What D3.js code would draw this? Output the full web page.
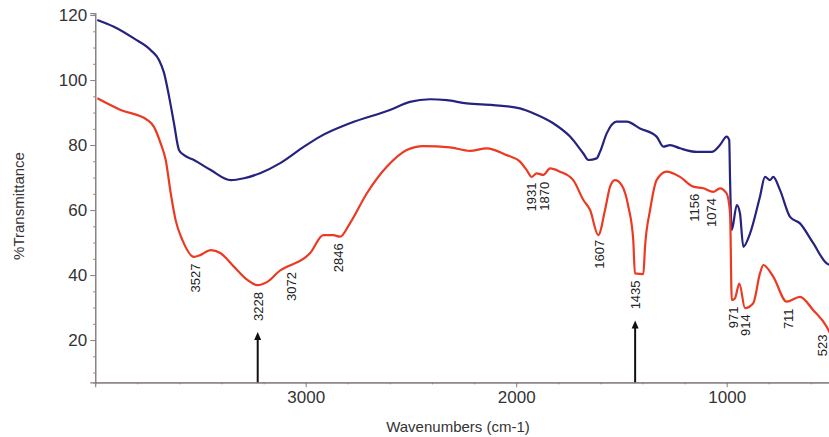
<!DOCTYPE html>
<html>
<head>
<meta charset="utf-8">
<script src="https://cdn.jsdelivr.net/npm/d3@7"></script>
<style>
  body { margin: 0; background: #fff; }
  text { font-family: "Liberation Sans", Arial, sans-serif; }
</style>
</head>
<body>
<div id="app"></div>
<script>
// IR spectra: [wavenumber cm-1, %T]
const blueSpectrum = [
  [3990, 118.5], [3911, 116.4], [3816, 112.8], [3736, 109.2], [3697, 106.2],
  [3673, 102.2], [3649, 94.9], [3626, 86.8], [3602, 78.5], [3578, 76.9],
  [3531, 75.4], [3451, 72.3], [3356, 69.2], [3293, 69.8], [3214, 71.4],
  [3119, 74.5], [3008, 79.5], [2932, 82.6], [2790, 86.7], [2600, 90.8],
  [2505, 93.3], [2410, 94.1], [2330, 93.8], [2235, 92.8], [2109, 92.3],
  [1982, 91.3], [1919, 89.8], [1824, 86.7], [1744, 82.6], [1681, 77.4],
  [1657, 75.4], [1618, 75.9], [1602, 77.9], [1570, 83.6], [1523, 87.2],
  [1475, 87.2], [1412, 85.1], [1333, 82.6], [1301, 79.5], [1269, 80.0],
  [1222, 79.0], [1142, 77.9], [1071, 77.9], [1032, 80.0], [1000, 82.6],
  [988, 81.5], [984, 69.2], [976, 53.8], [952, 61.5], [937, 59.0],
  [921, 48.7], [889, 52.8], [842, 64.1], [818, 70.2], [794, 69.2],
  [779, 70.2], [747, 66.2], [699, 57.9], [652, 55.9], [589, 49.8],
  [525, 43.6], [505, 43.0]
];

const redSpectrum = [
  [3990, 94.4], [3879, 90.8], [3752, 87.7], [3721, 85.6], [3689, 80.5],
  [3665, 75.4], [3641, 65.1], [3618, 56.9], [3586, 50.8], [3531, 45.6],
  [3499, 46.2], [3451, 47.7], [3404, 46.7], [3341, 42.6], [3277, 38.5],
  [3230, 36.9], [3182, 37.9], [3119, 41.5], [3087, 42.6], [3008, 45.1],
  [2980, 46.7], [2916, 52.3], [2869, 52.3], [2837, 51.8], [2790, 55.9],
  [2710, 65.1], [2615, 73.3], [2520, 78.5], [2441, 79.7], [2315, 79.3],
  [2220, 78.2], [2140, 79.0], [2045, 76.9], [1982, 74.9], [1950, 72.3],
  [1926, 70.2], [1903, 71.3], [1871, 70.8], [1839, 72.8], [1792, 71.8],
  [1729, 69.2], [1681, 63.1], [1649, 60.0], [1610, 52.3], [1578, 60.0],
  [1554, 67.2], [1531, 69.2], [1499, 67.7], [1467, 61.0], [1444, 50.8],
  [1436, 40.5], [1396, 40.3], [1388, 48.7], [1364, 60.0], [1333, 69.2],
  [1285, 71.8], [1222, 70.2], [1159, 67.2], [1111, 66.7], [1064, 65.6],
  [1032, 66.7], [1000, 65.1], [984, 59.0], [976, 32.3], [961, 32.8],
  [940, 37.4], [913, 29.8], [874, 31.3], [842, 40.5], [826, 43.1],
  [779, 39.5], [715, 31.8], [652, 33.3], [589, 29.2], [525, 24.1],
  [505, 21.5]
];

const peakLabels = [3527, 3228, 3072, 2846, 1931, 1870, 1607, 1435, 1156, 1074, 971, 914, 711, 523];
const arrowPeaks = [3228, 1435];

const yMajorTicks = [20, 40, 60, 80, 100, 120];
const yMinorTicks = d3.range(10, 121, 5);
const xMajorTicks = [3000, 2000, 1000];
const xMinorTicks = d3.range(3800, 599, -200);

const width = 829;
const height = 437;

const svg = d3.select('#app').append('svg')
    .attr('width', width)
    .attr('height', height)
    .style('background', '#fff');

const xScale = d3.scaleLinear().domain([4000, 400]).range([95.2, 853]);
const yScale = d3.scaleLinear().domain([7, 120.6]).range([382.3, 13.1]);

const axisColor = '#8c8282';

// Y axis
const yAxisG = svg.append('g').attr('transform', `translate(${xScale(4000)},0)`);
yAxisG.call(d3.axisLeft(yScale).tickValues(yMinorTicks).tickSize(2).tickFormat(''));
yAxisG.append('g').call(d3.axisLeft(yScale).tickValues(yMajorTicks).tickSize(5).tickPadding(3).tickFormat(d3.format('d')));
yAxisG.selectAll('.domain').attr('stroke', axisColor).attr('stroke-width', 1.2);
yAxisG.selectAll('.tick line').attr('stroke', axisColor);
yAxisG.selectAll('text')
    .attr('font-size', 17)
    .attr('fill', '#333')
    .style('font-family', '"Liberation Sans", Arial, sans-serif');

// X axis
const xAxisG = svg.append('g').attr('transform', `translate(0,${yScale(7)})`);
xAxisG.call(d3.axisBottom(xScale).tickValues(xMinorTicks).tickSize(2).tickFormat(''));
xAxisG.append('g').call(d3.axisBottom(xScale).tickValues(xMajorTicks).tickSize(5).tickPadding(4).tickFormat(d3.format('d')));
xAxisG.selectAll('.domain').attr('stroke', axisColor).attr('stroke-width', 1.2);
xAxisG.selectAll('.tick line').attr('stroke', axisColor);
xAxisG.selectAll('text')
    .attr('font-size', 17)
    .attr('fill', '#333')
    .style('font-family', '"Liberation Sans", Arial, sans-serif');

// Axis titles
svg.append('text')
    .attr('x', 458)
    .attr('y', 432)
    .attr('text-anchor', 'middle')
    .attr('font-size', 15)
    .attr('fill', '#333')
    .text('Wavenumbers (cm-1)');

svg.append('text')
    .attr('transform', 'translate(24,206) rotate(-90)')
    .attr('text-anchor', 'middle')
    .attr('font-size', 15)
    .attr('fill', '#333')
    .text('%Transmittance');

// Spectra
const line = d3.line()
    .x(d => xScale(d[0]))
    .y(d => yScale(d[1]))
    .curve(d3.curveMonotoneX);

svg.append('path')
    .datum(blueSpectrum)
    .attr('d', line)
    .attr('fill', 'none')
    .attr('stroke', '#25237f')
    .attr('stroke-width', 2.2)
    .attr('stroke-linejoin', 'round');

svg.append('path')
    .datum(redSpectrum)
    .attr('d', line)
    .attr('fill', 'none')
    .attr('stroke', '#ec3a22')
    .attr('stroke-width', 2.2)
    .attr('stroke-linejoin', 'round');

// Interpolate red %T at a wavenumber (data is sorted descending)
const redAt = wn => {
    const sorted = redSpectrum.slice().reverse();
    const i = d3.bisector(d => d[0]).left(sorted, wn);
    if (i <= 0) return sorted[0][1];
    if (i >= sorted.length) return sorted[sorted.length - 1][1];
    const a = sorted[i - 1], b = sorted[i];
    const t = (wn - a[0]) / (b[0] - a[0]);
    return a[1] + t * (b[1] - a[1]);
};

const labelTop = wn => yScale(redAt(wn)) + 7;

// Peak labels (rotated, reading bottom to top); keep the last one inside the edge
svg.append('g')
    .selectAll('text')
    .data(peakLabels)
    .join('text')
    .attr('transform', d => `translate(${Math.min(xScale(d) + 5, width - 2)},${labelTop(d)}) rotate(-90)`)
    .attr('text-anchor', 'end')
    .attr('font-size', 13)
    .attr('fill', '#222')
    .text(d => d);

// Arrows
const arrows = svg.append('g');
arrowPeaks.forEach(wn => {
    const x = xScale(wn);
    const tip = labelTop(wn) + 40;
    arrows.append('line')
        .attr('x1', x).attr('x2', x)
        .attr('y1', yScale(7)).attr('y2', tip + 6)
        .attr('stroke', '#111')
        .attr('stroke-width', 2);
    arrows.append('path')
        .attr('d', `M${x},${tip} L${x - 3.5},${tip + 8} L${x + 3.5},${tip + 8} Z`)
        .attr('fill', '#111');
});
</script>
</body>
</html>
